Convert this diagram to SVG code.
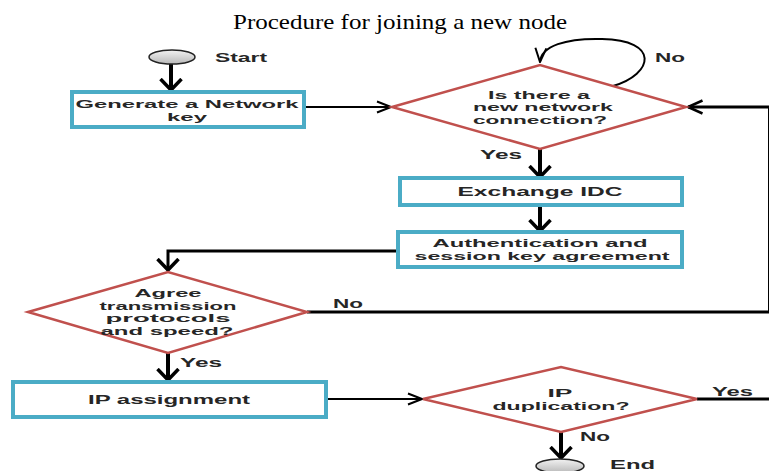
<svg xmlns="http://www.w3.org/2000/svg" width="769" height="471" viewBox="0 0 769 471">
<style>
.box{fill:#fff;stroke:#4bacc6;stroke-width:4}
.dia{fill:#fff;stroke:#c0504d;stroke-width:2.5;stroke-linejoin:miter}
.term{fill:url(#g);stroke:#222;stroke-width:1.5}
.t{font-family:"Liberation Sans",Arial,sans-serif;font-weight:bold;font-size:10.5px;fill:#262626;text-anchor:middle}
.t1{font-size:12px}
.lbl{font-family:"Liberation Sans",Arial,sans-serif;font-weight:bold;font-size:12px;fill:#262626}
.title{font-family:"Liberation Serif","Times New Roman",serif;font-size:21px;fill:#000;text-anchor:middle}
.c{fill:none;stroke:#000}
.thick{stroke-width:4}
.mid{stroke-width:3}
.thin{stroke-width:2}
</style>
<defs>
<linearGradient id="g" x1="0" y1="0" x2="0" y2="1">
<stop offset="0" stop-color="#f2f2f2"/>
<stop offset="1" stop-color="#b8b8b8"/>
</linearGradient>
<marker id="ab" viewBox="0 0 14 24" refX="12.5" refY="12" markerWidth="14" markerHeight="24" markerUnits="userSpaceOnUse" orient="auto">
<path d="M1.5,1.5 L12.5,12 L1.5,22.5" fill="none" stroke="#000" stroke-width="3.5"/>
</marker>
<marker id="am" viewBox="0 0 18 16" refX="16" refY="8" markerWidth="18" markerHeight="16" markerUnits="userSpaceOnUse" orient="auto">
<path d="M1.5,1.5 L16,8 L1.5,14.5" fill="none" stroke="#000" stroke-width="2.5"/>
</marker>
<marker id="at" viewBox="0 0 16 14" refX="15" refY="7" markerWidth="16" markerHeight="14" markerUnits="userSpaceOnUse" orient="auto">
<path d="M1,1.5 L15,7 L1,12.5" fill="none" stroke="#000" stroke-width="2"/>
</marker>
</defs>
<rect width="769" height="471" fill="#fff"/>
<text class="title" x="400" y="29" textLength="334" lengthAdjust="spacingAndGlyphs">Procedure for joining a new node</text>

<g id="connectors">
<path class="c thick" d="M171,64 L171,90" marker-end="url(#ab)"/>
<path class="c thin" d="M304,107 L391,107" marker-end="url(#at)"/>
<path class="c mid" d="M769,107 L688,107" marker-end="url(#am)"/>
<path class="c thin" d="M613,86 C654,74 660,40 602,39 C566,38 541,46 540,62" marker-end="url(#at)"/>
<path class="c thick" d="M540,149 L540,177" marker-end="url(#ab)"/>
<path class="c thick" d="M540,205 L540,231" marker-end="url(#ab)"/>
<path class="c mid" d="M398,251 L168,251 L168,270" marker-end="url(#ab)"/>
<path class="c mid" d="M307,312 L769,312"/>
<path class="c" stroke="#aaa" stroke-width="1" d="M768.5,107 L768.5,312"/>
<path class="c thick" d="M168,353 L168,380" marker-end="url(#ab)"/>
<path class="c thin" d="M326,399 L422,399" marker-end="url(#at)"/>
<path class="c mid" d="M697,399 L769,399"/>
<path class="c thick" d="M561,432 L561,458" marker-end="url(#ab)"/>
</g>

<g id="start">
<ellipse class="term" cx="172" cy="57" rx="23" ry="7"/>
<text class="lbl" x="215" y="62" textLength="52" lengthAdjust="spacingAndGlyphs">Start</text>
</g>

<g id="generate">
<rect class="box" x="72" y="92" width="232" height="35"/>
<text class="t" x="187" y="108" textLength="223" lengthAdjust="spacingAndGlyphs">Generate a Network</text>
<text class="t" x="187" y="121" textLength="40" lengthAdjust="spacingAndGlyphs">key</text>
</g>

<g id="decision-connection">
<polygon class="dia" points="392,107 540,65 686,107 540,149"/>
<text class="t" x="539" y="98.5" textLength="102" lengthAdjust="spacingAndGlyphs">Is there a</text>
<text class="t" x="543" y="111" textLength="140" lengthAdjust="spacingAndGlyphs">new network</text>
<text class="t" x="540" y="123.5" textLength="134" lengthAdjust="spacingAndGlyphs">connection?</text>
<text class="lbl" x="655" y="62" textLength="30" lengthAdjust="spacingAndGlyphs">No</text>
<text class="lbl" x="480" y="159" textLength="42" lengthAdjust="spacingAndGlyphs">Yes</text>
</g>

<g id="exchange">
<rect class="box" x="400" y="178" width="282" height="27"/>
<text class="t t1" x="540" y="196" textLength="165" lengthAdjust="spacingAndGlyphs">Exchange IDC</text>
</g>

<g id="auth">
<rect class="box" x="398" y="232" width="284" height="35"/>
<text class="t" x="540" y="247" textLength="215" lengthAdjust="spacingAndGlyphs">Authentication and</text>
<text class="t" x="542" y="259.5" textLength="255" lengthAdjust="spacingAndGlyphs">session key agreement</text>
</g>

<g id="decision-protocols">
<polygon class="dia" points="28,312 168,272 307,312 168,353"/>
<text class="t" x="168" y="297" textLength="67" lengthAdjust="spacingAndGlyphs">Agree</text>
<text class="t" x="168" y="309.5" textLength="137" lengthAdjust="spacingAndGlyphs">transmission</text>
<text class="t" x="168" y="322" textLength="125" lengthAdjust="spacingAndGlyphs">protocols</text>
<text class="t" x="167" y="334.5" textLength="133" lengthAdjust="spacingAndGlyphs">and speed?</text>
<text class="lbl" x="333" y="308" textLength="30" lengthAdjust="spacingAndGlyphs">No</text>
<text class="lbl" x="180" y="367" textLength="42" lengthAdjust="spacingAndGlyphs">Yes</text>
</g>

<g id="ip-assignment">
<rect class="box" x="13" y="382" width="313" height="35"/>
<text class="t t1" x="169" y="403.5" textLength="162" lengthAdjust="spacingAndGlyphs">IP assignment</text>
</g>

<g id="decision-duplication">
<polygon class="dia" points="423,399 561,367 697,399 561,432"/>
<text class="t" x="560" y="397" textLength="25" lengthAdjust="spacingAndGlyphs">IP</text>
<text class="t" x="561" y="409.5" textLength="137" lengthAdjust="spacingAndGlyphs">duplication?</text>
<text class="lbl" x="712" y="395.5" textLength="41" lengthAdjust="spacingAndGlyphs">Yes</text>
<text class="lbl" x="580" y="440.5" textLength="30" lengthAdjust="spacingAndGlyphs">No</text>
</g>

<g id="end">
<ellipse class="term" cx="560" cy="466" rx="24" ry="7"/>
<text class="lbl" x="610" y="469" textLength="45" lengthAdjust="spacingAndGlyphs">End</text>
</g>
</svg>
